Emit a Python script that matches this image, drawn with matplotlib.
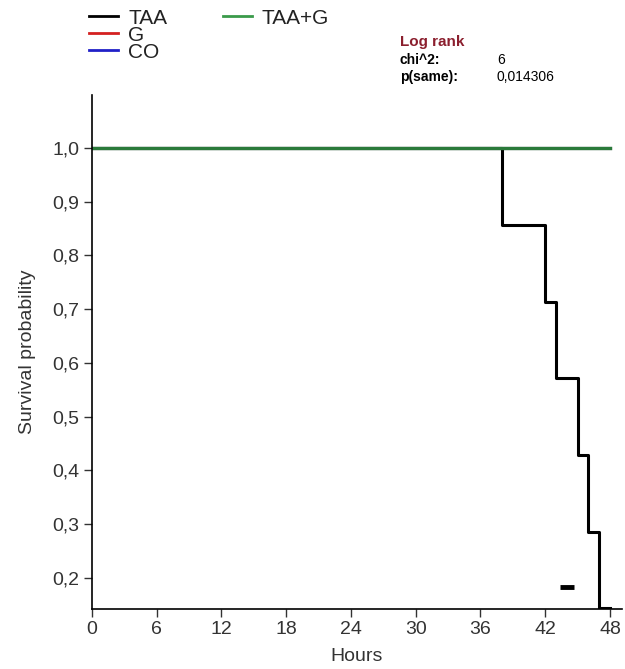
import numpy as np
import matplotlib
matplotlib.use('Agg')
import matplotlib.pyplot as plt

plt.rcParams['font.family'] = ['Liberation Sans', 'DejaVu Sans']

# Kaplan-Meier step data (hours, survival)
taa_t = [0, 38, 42, 43, 45, 46, 47, 48]
taa_s = [1.0, 0.857, 0.714, 0.571, 0.429, 0.286, 0.143, 0.143]
g_t = [0, 48]
g_s = [1.0, 1.0]
co_t = [0, 48]
co_s = [1.0, 1.0]
taag_t = [0, 48]
taag_s = [1.0, 1.0]

# stray mark near the bottom
mark_x = [43.4, 44.7]
mark_y = [0.183, 0.183]

xticks = [0, 6, 12, 18, 24, 30, 36, 42, 48]
yticks = [0.2, 0.3, 0.4, 0.5, 0.6, 0.7, 0.8, 0.9, 1.0]

fig = plt.figure(figsize=(6.25, 6.69), dpi=100)
ax = fig.add_axes([0.147, 0.09, 0.848, 0.768])

ax.step(g_t, g_s, where='post', color='#d42020', lw=2.2)
ax.step(co_t, co_s, where='post', color='#2020c8', lw=2.2)
ax.step(taa_t, taa_s, where='post', color='black', lw=2.2)
ax.step(taag_t, taag_s, where='post', color='#2a7a3a', lw=2.4)
ax.plot(mark_x, mark_y, color='black', lw=3.5, solid_capstyle='butt')

ax.set_xlim(0, 49.1)
ax.set_ylim(0.1423, 1.0986)
ax.set_xticks(xticks)
ax.set_yticks(yticks)
ax.set_yticklabels([('%.1f' % v).replace('.', ',') for v in yticks])
ax.tick_params(labelsize=14, direction='out', length=6, width=1, colors='#333333', pad=3)
for s in ['top', 'right']:
    ax.spines[s].set_visible(False)
for s in ['left', 'bottom']:
    ax.spines[s].set_linewidth(1.2)
ax.set_xlabel('Hours', fontsize=14, color='#333333', labelpad=7)
ax.set_ylabel('Survival probability', fontsize=14, color='#333333', labelpad=12)

# legend drawn as separate lines and text in figure coords
leg = [('TAA', 'black', 0.143, 0.976), ('G', '#d42020', 0.143, 0.951),
       ('CO', '#2020c8', 0.143, 0.926), ('TAA+G', '#3a9a4a', 0.357, 0.976)]
for name, col, x0, y0 in leg:
    fig.add_artist(plt.Line2D([x0, x0 + 0.046], [y0, y0], color=col, lw=2,
                              transform=fig.transFigure))
    fig.text(x0 + 0.062, y0 - 0.004, name, fontsize=15, va='center', ha='left', color='#222222')

fig.text(0.64, 0.937, 'Log rank', fontsize=11, fontweight='bold', color='#8b1f2e', va='center')
fig.text(0.64, 0.910, 'chi^2:', fontsize=10, fontweight='bold', color='black', va='center')
fig.text(0.795, 0.910, '6', fontsize=10, color='black', va='center')
fig.text(0.64, 0.885, 'p(same):', fontsize=10, fontweight='bold', color='black', va='center')
fig.text(0.795, 0.885, '0,014306', fontsize=10, color='black', va='center')

fig.savefig('out.png', dpi=100)
